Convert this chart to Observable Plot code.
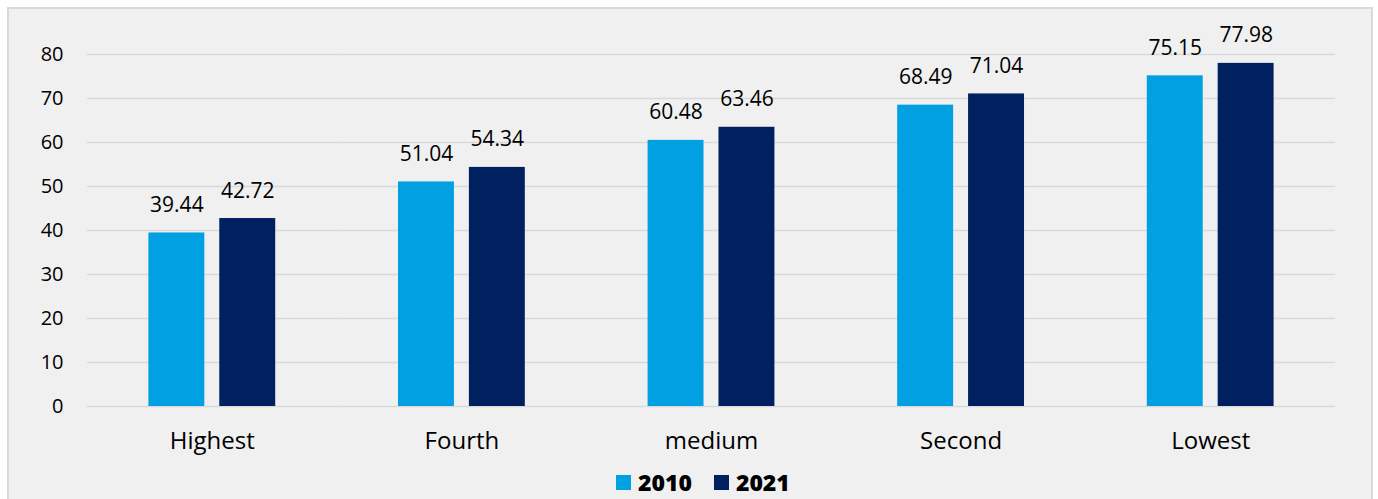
<!DOCTYPE html>
<html>
<head>
<meta charset="utf-8">
<script src="https://cdn.jsdelivr.net/npm/d3@7"></script>
<script src="https://cdn.jsdelivr.net/npm/@observablehq/plot@0.6"></script>
<style>
  html, body { margin: 0; padding: 0; background: #ffffff; }
  body { width: 1378px; height: 499px; position: relative; overflow: hidden; font-family: "Open Sans", sans-serif; }
  #frame { position: absolute; left: 7px; top: 7px; width: 1366px; height: 500px; background: #f0f0f0; border: 2px solid #d9d9d9; box-sizing: border-box; }
  #chart { position: absolute; left: 0; top: 0; }
  #legend { position: absolute; top: 466px; left: 616px; display: flex; align-items: center; font-weight: 800; font-size: 23px; color: #000; }
  .sw { width: 15px; height: 15px; display: inline-block; margin-right: 7px; }
  .item { display: flex; align-items: center; margin-right: 22px; }
</style>
</head>
<body>
<div id="frame"></div>
<div id="chart"></div>
<div id="legend"></div>
<script>
const categories = ["Highest", "Fourth", "medium", "Second", "Lowest"];
const years = ["2010", "2021"];
const values2010 = [39.44, 51.04, 60.48, 68.49, 75.15];
const values2021 = [42.72, 54.34, 63.46, 71.04, 77.98];
const colors = ["#00A0E3", "#002060"];
const yTicks = [0, 10, 20, 30, 40, 50, 60, 70, 80];

const data = categories.flatMap((c, i) => [
  {cat: c, year: years[0], value: values2010[i]},
  {cat: c, year: years[1], value: values2021[i]}
]);

const chart = Plot.plot({
  width: 1378,
  height: 465,
  marginLeft: 87,
  marginRight: 43,
  marginTop: 54,
  marginBottom: 59,
  style: {background: "transparent", fontFamily: "'Open Sans', sans-serif", overflow: "visible", color: "#000"},
  fx: {domain: categories, padding: 0, round: false, label: null},
  x: {domain: years, paddingInner: 0.211, paddingOuter: 0.866, round: false, axis: null},
  y: {domain: [0, 80], label: null},
  color: {domain: years, range: colors},
  marks: [
    Plot.gridY(yTicks, {stroke: "#d9d9d9", strokeOpacity: 1, strokeWidth: 1.5}),
    Plot.axisY(yTicks, {tickSize: 0, tickPadding: 24, fontSize: 20, fill: "#000", label: null}),
    Plot.axisFx({anchor: "bottom", tickSize: 0, tickPadding: 25, fontSize: 24, fill: "#000", label: null}),
    Plot.barY(data, {fx: "cat", x: "year", y: "value", fill: "year"}),
    Plot.text(data, {fx: "cat", x: "year", y: "value", text: d => d.value.toFixed(2), dy: -21, lineAnchor: "bottom", fontSize: 21, fill: "#000"})
  ]
});
document.getElementById("chart").appendChild(chart);

const legend = document.getElementById("legend");
years.forEach((y, i) => {
  const item = document.createElement("div");
  item.className = "item";
  const sw = document.createElement("span");
  sw.className = "sw";
  sw.style.background = colors[i];
  const t = document.createElement("span");
  t.textContent = y;
  item.appendChild(sw);
  item.appendChild(t);
  legend.appendChild(item);
});
</script>
</body>
</html>
